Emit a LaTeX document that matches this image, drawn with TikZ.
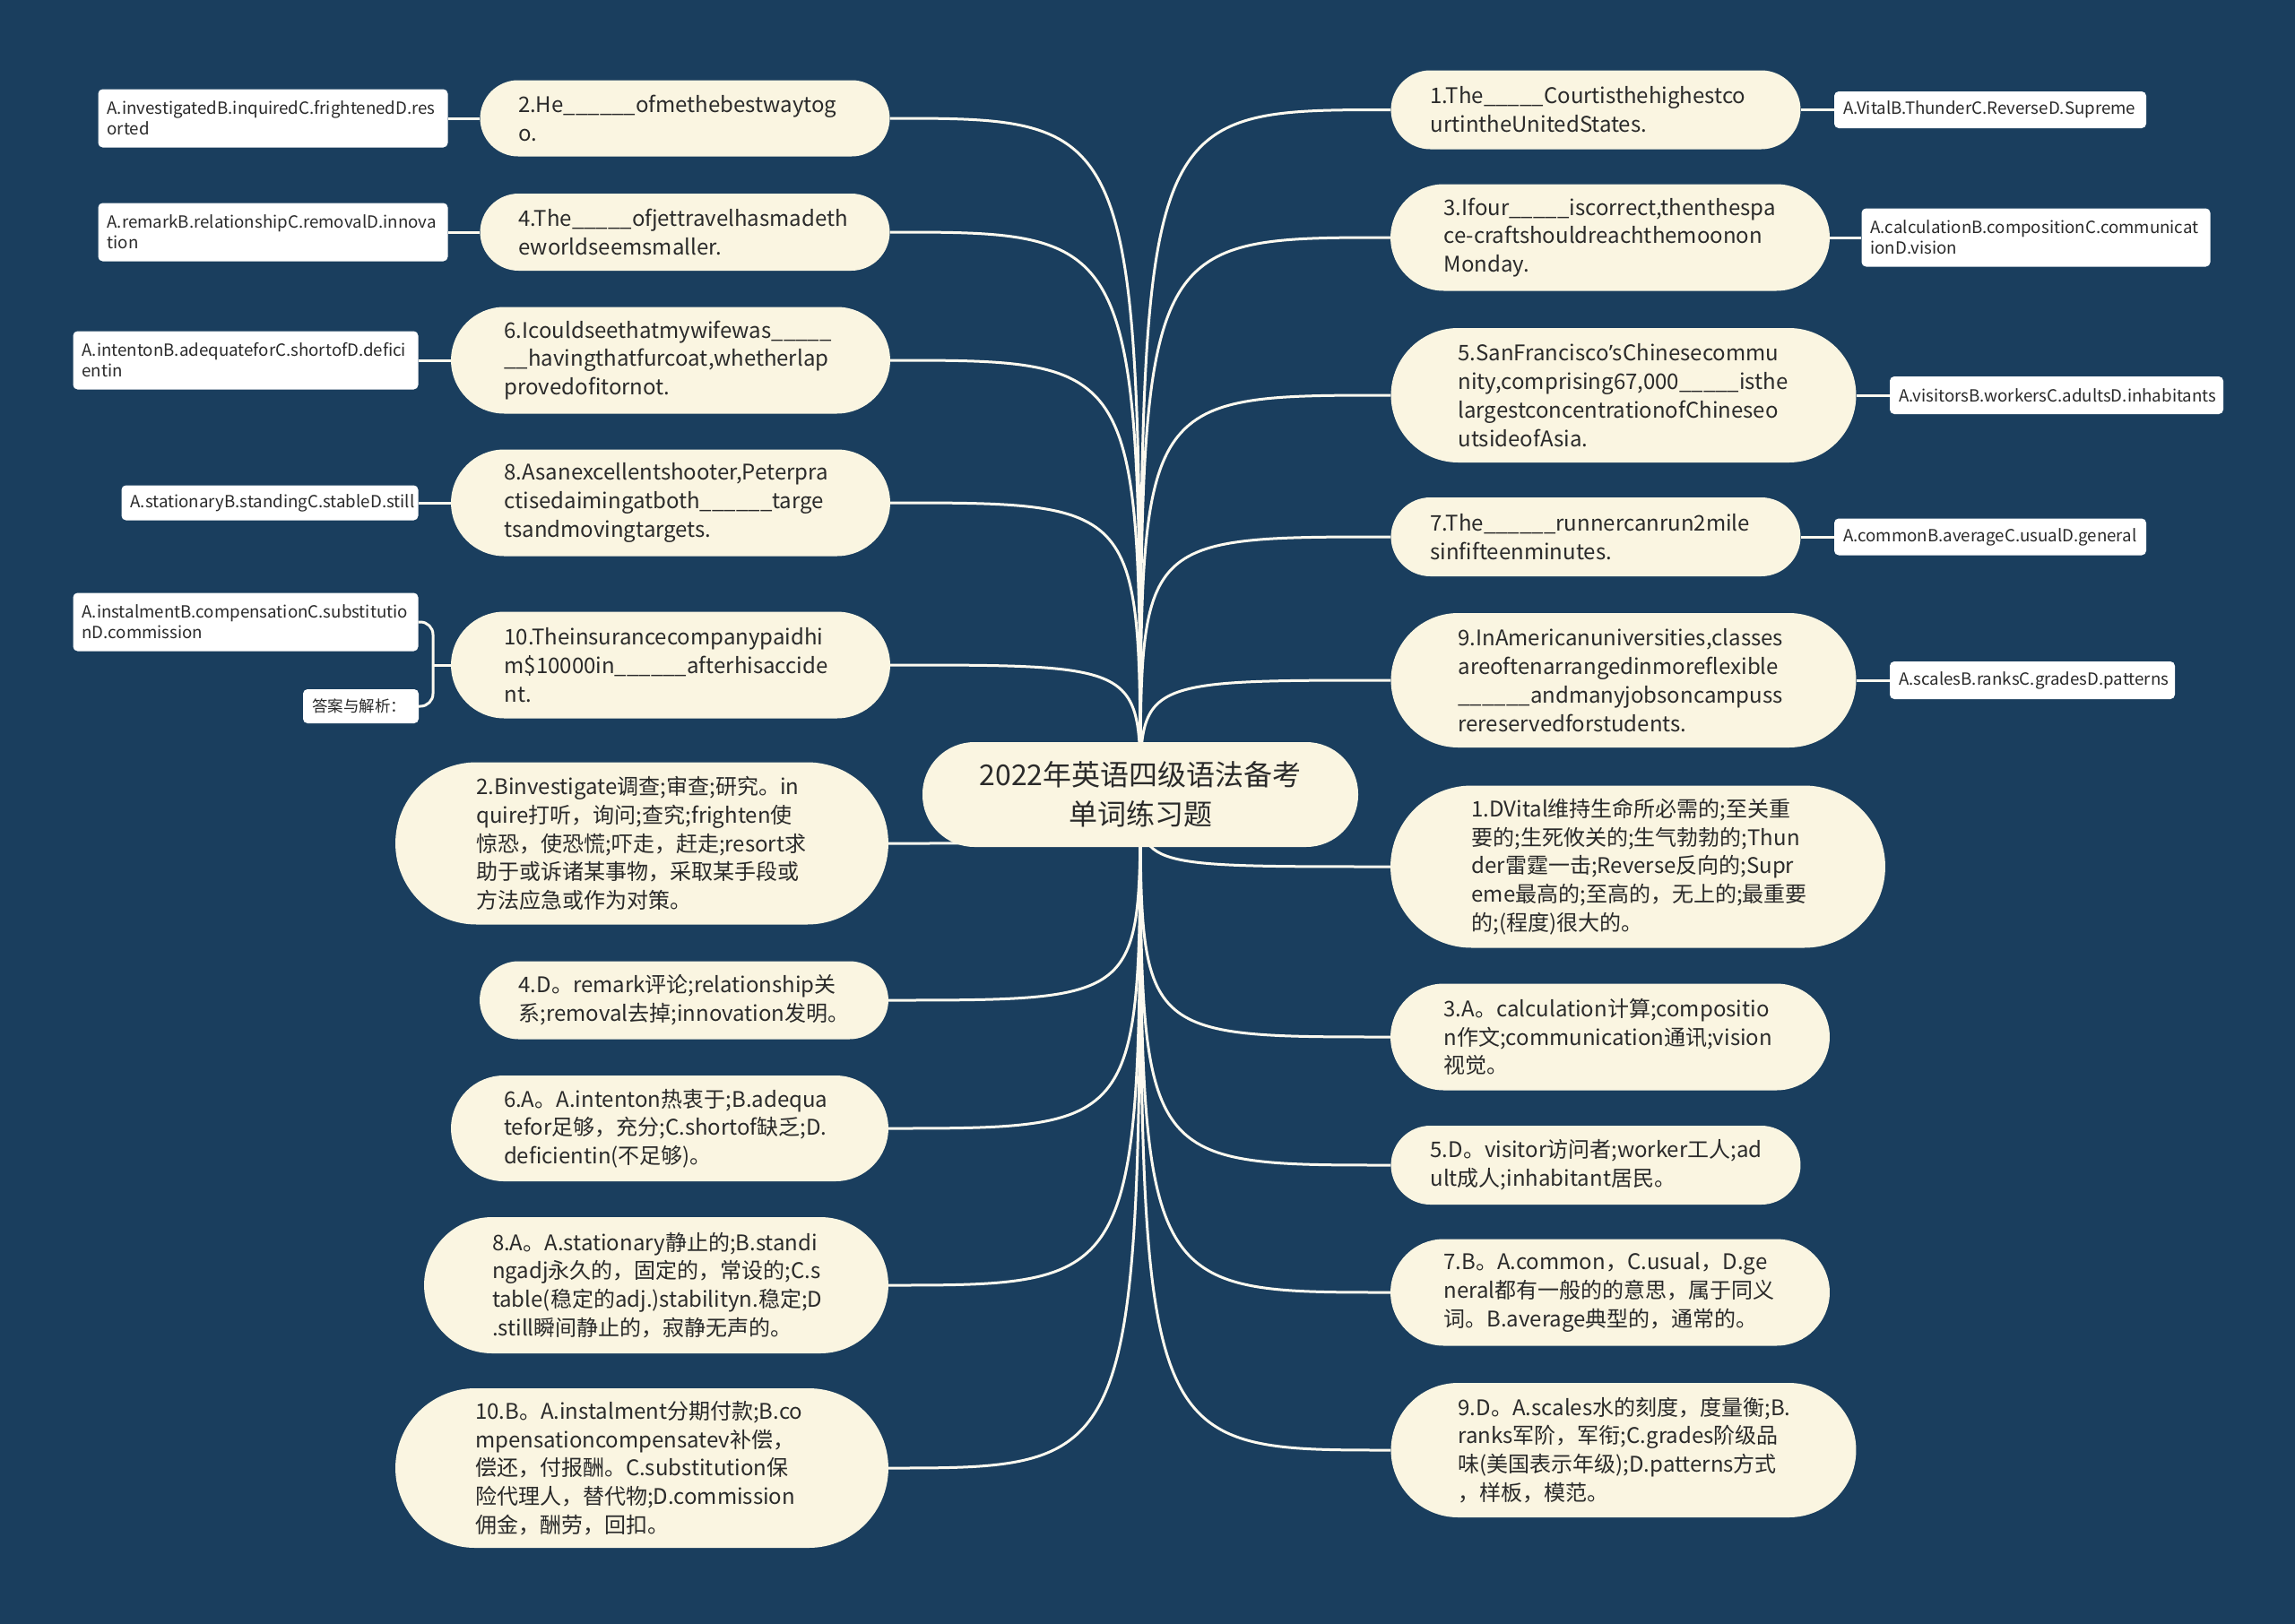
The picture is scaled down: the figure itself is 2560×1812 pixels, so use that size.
\documentclass[tikz,border=0pt]{standalone}
\usepackage{fontspec}
\setmainfont{Noto Sans CJK SC}
\newfontfamily\latn{Noto Sans}
\pgfdeclarelayer{back}
\pgfdeclarelayer{wires}
\pgfsetlayers{back,wires,main}
\hyphenpenalty=10000
\exhyphenpenalty=10000
\definecolor{bgc}{HTML}{1A3E5E}
\definecolor{cream}{HTML}{FAF5E1}
\definecolor{wire}{HTML}{FCF9EF}
\definecolor{txt}{HTML}{2A2A2A}
\begin{document}
\begin{tikzpicture}[x=1pt,y=-1pt,
  q/.style={rectangle, fill=cream, draw=none, text=txt, align=left, inner ysep=0pt,
    font=\fontsize{24}{31.8}\selectfont},
  bub/.code 2 args={\pgfmathsetmacro\bw{#1-#2}\pgfmathsetmacro\bh{#2/2-0.05}%
    \edef\tmp{\noexpand\tikzset{text width=\bw pt, inner xsep=\bh pt, rounded corners=\bh pt, minimum height=#2pt}}\tmp},
  opt/.style={rectangle, fill=white, draw=none, text=txt, align=left, inner ysep=0pt, inner xsep=10pt,
    rounded corners=5pt, font=\fontsize{18.7}{23}\selectfont},
  ob/.code 2 args={\pgfmathsetmacro\bw{#1-20}%
    \edef\tmp{\noexpand\tikzset{text width=\bw pt, minimum height=#2pt}}\tmp},
  link/.style={draw=wire, line width=3pt},
  rootnode/.style={rectangle, fill=cream, text=txt, align=center, minimum width=486pt, minimum height=117pt,
    rounded corners=58pt, font=\fontsize{32}{44}\selectfont}
]
\begin{pgfonlayer}{back}
\fill[bgc] (0,0) rectangle (2560,1812);
\end{pgfonlayer}
\useasboundingbox (0,0) rectangle (2560,1812);

% root
\node[rootnode] (root) at (1272,886.5) {2022年英语四级语法备考\\单词练习题};

% left questions
\node[q, bub={457}{85}] (Q2) at (764,132) {2.He\_\_\_\_\_\_ofmethebestwaytog\\o.};
\node[q, bub={457}{86}] (Q4) at (764,259) {4.The\_\_\_\_\_ofjettravelhasmadeth\\eworldseemsmaller.};
\node[q, bub={490}{119}] (Q6) at (748,402) {6.Icouldseethatmywifewas\_\_\_\_\_\\\_\_havingthatfurcoat,whetherlap\\provedofitornot.};
\node[q, bub={490}{119}] (Q8) at (748,561) {8.Asanexcellentshooter,Peterpra\\ctisedaimingatboth\_\_\_\_\_\_targe\\tsandmovingtargets.};
\node[q, bub={490}{119}] (Q10) at (748,742) {10.Theinsurancecompanypaidhi\\m\$10000in\_\_\_\_\_\_afterhisaccide\\nt.};

% left options
\node[opt, ob={390}{65}] (O2) at (304.5,132) {A.investigatedB.inquiredC.frightenedD.res\\orted};
\node[opt, ob={390}{65}] (O4) at (304.5,259) {A.remarkB.relationshipC.removalD.innova\\tion};
\node[opt, ob={385}{65}] (O6) at (274,402) {A.intentonB.adequateforC.shortofD.defici\\entin};
\node[opt, ob={331}{39}] (O8) at (301,561) {A.stationaryB.standingC.stableD.still};
\node[opt, ob={385}{65}] (O10) at (274,694) {A.instalmentB.compensationC.substitutio\\nD.commission};
\node[opt, ob={129}{38}, font=\fontsize{17.5}{23}\selectfont] (ans) at (402.5,788) {答案与解析：};

% left answers
\node[q, bub={550}{181}] (A2) at (716,941) {2.Binvestigate调查;审查;研究。in\\quire打听，询问;查究;frighten使\\惊恐，使恐慌;吓走，赶走;resort求\\助于或诉诸某事物，采取某手段或\\方法应急或作为对策。};
\node[q, bub={456}{87}] (A4) at (763,1116) {4.D。remark评论;relationship关\\系;removal去掉;innovation发明。};
\node[q, bub={488}{118}] (A6) at (747,1259) {6.A。A.intenton热衷于;B.adequa\\tefor足够，充分;C.shortof缺乏;D.\\deficientin(不足够)。};
\node[q, bub={518}{152}] (A8) at (732,1434) {8.A。A.stationary静止的;B.standi\\ngadj永久的，固定的，常设的;C.s\\table(稳定的adj.)stabilityn.稳定;D\\.still瞬间静止的，寂静无声的。};
\node[q, bub={550}{178}] (A10) at (716,1638) {10.B。A.instalment分期付款;B.co\\mpensationcompensatev补偿，\\偿还，付报酬。C.substitution保\\险代理人，替代物;D.commission\\佣金，酬劳，回扣。};

% right questions
\node[q, bub={457}{88}] (Q1) at (1780,122.5) {1.The\_\_\_\_\_Courtisthehighestco\\urtintheUnitedStates.};
\node[q, bub={490}{119}] (Q3) at (1796,265) {3.Ifour\_\_\_\_\_iscorrect,thenthespa\\ce-craftshouldreachthemoonon\\Monday.};
\node[q, bub={519}{150}] (Q5) at (1811,441) {5.SanFrancisco{\latn ’}sChinesecommu\\nity,comprising67,000\_\_\_\_\_isthe\\largestconcentrationofChineseo\\utsideofAsia.};
\node[q, bub={457}{88}] (Q7) at (1780,599) {7.The\_\_\_\_\_\_runnercanrun2mile\\sinfifteenminutes.};
\node[q, bub={519}{150}] (Q9) at (1811,759) {9.InAmericanuniversities,classes\\areoftenarrangedinmoreflexible\\\_\_\_\_\_\_andmanyjobsoncampuss\\rereservedforstudents.};

% right options
\node[opt, ob={348}{41}] (R1) at (2220,122.5) {A.VitalB.ThunderC.ReverseD.Supreme};
\node[opt, ob={389}{65}] (R3) at (2271,265) {A.calculationB.compositionC.communicat\\ionD.vision};
\node[opt, ob={372}{42}] (R5) at (2294,441) {A.visitorsB.workersC.adultsD.inhabitants};
\node[opt, ob={348}{41}] (R7) at (2220,599) {A.commonB.averageC.usualD.general};
\node[opt, ob={318}{42}] (R9) at (2267,759) {A.scalesB.ranksC.gradesD.patterns};

% right answers
\node[q, bub={552}{181}] (RA1) at (1827,967) {1.DVital维持生命所必需的;至关重\\要的;生死攸关的;生气勃勃的;Thun\\der雷霆一击;Reverse反向的;Supr\\eme最高的;至高的，无上的;最重要\\的;(程度)很大的。};
\node[q, bub={490}{119}] (RA3) at (1796,1157) {3.A。calculation计算;compositio\\n作文;communication通讯;vision\\视觉。};
\node[q, bub={457}{88}] (RA5) at (1780,1300) {5.D。visitor访问者;worker工人;ad\\ult成人;inhabitant居民。};
\node[q, bub={490}{119}] (RA7) at (1796,1442) {7.B。A.common，C.usual，D.ge\\neral都有一般的的意思，属于同义\\词。B.average典型的，通常的。};
\node[q, bub={519}{150}] (RA9) at (1811,1618) {9.D。A.scales水的刻度，度量衡;B.\\ranks军阶，军衔;C.grades阶级品\\味(美国表示年级);D.patterns方式\\，样板，模范。};

\coordinate (br) at (483,742);

\begin{pgfonlayer}{wires}
\foreach \n in {Q2,Q4,Q6,Q8,Q10,A2,A4,A6,A8,A10}
  \draw[link] (root.center) .. controls (root.center |- \n.east) .. (\n.east);
\foreach \n in {Q1,Q3,Q5,Q7,Q9,RA1,RA3,RA5,RA7,RA9}
  \draw[link] (root.center) .. controls (root.center |- \n.west) .. (\n.west);
\draw[link] (Q2.west) -- (O2.east);
\draw[link] (Q4.west) -- (O4.east);
\draw[link] (Q6.west) -- (O6.east);
\draw[link] (Q8.west) -- (O8.east);
\draw[link] (Q10.west) -- (br);
\draw[link, rounded corners=14pt] (O10.east) -| (br) |- (ans.east);
\draw[link] (Q1.east) -- (R1.west);
\draw[link] (Q3.east) -- (R3.west);
\draw[link] (Q5.east) -- (R5.west);
\draw[link] (Q7.east) -- (R7.west);
\draw[link] (Q9.east) -- (R9.west);
\end{pgfonlayer}
\end{tikzpicture}
\end{document}
